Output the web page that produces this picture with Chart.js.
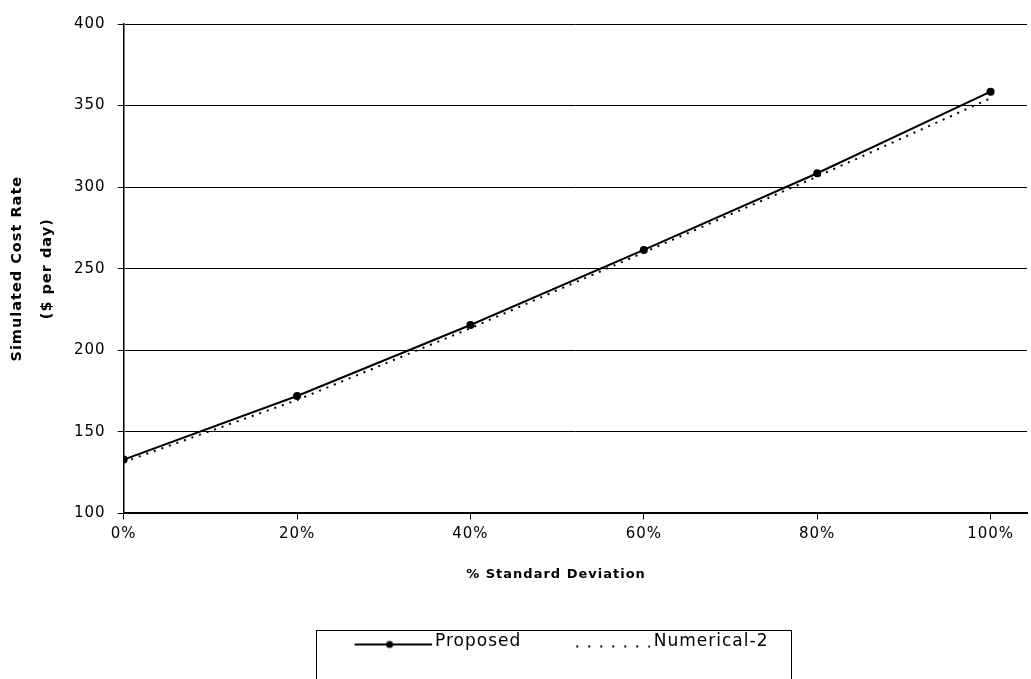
<!DOCTYPE html>
<html>
<head>
<meta charset="utf-8">
<script src="https://cdn.jsdelivr.net/npm/chart.js@4"></script>
<style>
  html, body { margin: 0; padding: 0; background: #fff; }
  #wrap { width: 1031px; height: 679px; }
</style>
</head>
<body>
<div id="wrap"><canvas id="chart" width="1031" height="679"></canvas></div>
<script>
// values
const stdDev = [0, 20, 40, 60, 80, 100];
const proposed = [133, 172, 215.5, 261.5, 308.5, 358.5];
const numerical2 = [131.5, 169.5, 213.5, 260, 306.5, 354.5];
const xTicks = [0, 20, 40, 60, 80, 100];
const yTicks = [100, 150, 200, 250, 300, 350, 400];

const toPoints = ys => stdDev.map((x, i) => ({ x: x, y: ys[i] }));

// little legend samples: solid line with a dot, and a dotted line
function sampleSolid(){
  const c = document.createElement("canvas");
  c.width = 94; c.height = 20;
  const g = c.getContext("2d");
  g.strokeStyle = "#000"; g.lineWidth = 2;
  g.beginPath(); g.moveTo(17, 13); g.lineTo(94, 13); g.stroke();
  g.fillStyle = "#000";
  g.beginPath(); g.arc(52, 13, 3.5, 0, Math.PI * 2); g.fill();
  return c;
}
function sampleDotted(){
  const c = document.createElement("canvas");
  c.width = 94; c.height = 20;
  const g = c.getContext("2d");
  g.fillStyle = "#000";
  for (let x = 20; x <= 92; x += 12) g.fillRect(x, 14, 2, 2);
  return c;
}

const spacing = {
  id: "spacing",
  beforeUpdate(chart){ chart.ctx.letterSpacing = "1px"; },
  beforeDraw(chart){ chart.ctx.letterSpacing = "1px"; }
};

const legendBox = {
  id: "legendBox",
  afterLayout(chart){
    chart.legend.left += 40;
    chart.legend.right += 40;
  },
  afterDraw(chart){
    const hb = chart.legend.legendHitBoxes;
    if (!hb || !hb.length) return;
    const last = hb[hb.length - 1];
    const ctx = chart.ctx;
    ctx.save();
    ctx.strokeStyle = "#000";
    ctx.lineWidth = 1;
    const l = Math.round(hb[0].left - 27) + 0.5;
    const r = Math.round(last.left + last.width + 23) + 0.5;
    const t = Math.round(hb[0].top - 3) + 0.5;
    ctx.strokeRect(l, t, r - l, chart.height + 10 - t);
    ctx.restore();
  }
};

Chart.defaults.font.family = "'DejaVu Sans', sans-serif";
Chart.defaults.color = "#000";

new Chart(document.getElementById("chart"), {
  type: "line",
  data: {
    datasets: [
      {
        label: "Proposed",
        data: toPoints(proposed),
        borderColor: "#000",
        backgroundColor: "#000",
        borderWidth: 2,
        pointRadius: 4,
        pointBackgroundColor: "#000",
        pointBorderWidth: 0,
        tension: 0
      },
      {
        label: "Numerical-2",
        data: toPoints(numerical2),
        borderColor: "#000",
        borderWidth: 2,
        borderDash: [2, 6],
        pointRadius: 0,
        tension: 0
      }
    ]
  },
  options: {
    responsive: false,
    animation: false,
    layout: { padding: { top: 24, right: 0, bottom: 19, left: 0 } },
    plugins: {
      tooltip: { enabled: false },
      legend: {
        position: "bottom",
        labels: {
          usePointStyle: true,
          pointStyleWidth: 84,
          padding: 40,
          font: { size: 17 },
          color: "#000",
          generateLabels: () => [
            { text: "Proposed", pointStyle: sampleSolid(), fillStyle: "#000", strokeStyle: "#000", lineWidth: 0, hidden: false, datasetIndex: 0 },
            { text: "Numerical-2", pointStyle: sampleDotted(), fillStyle: "#000", strokeStyle: "#000", lineWidth: 0, hidden: false, datasetIndex: 1 }
          ]
        }
      }
    },
    scales: {
      x: {
        type: "linear",
        min: 0,
        max: 104.2,
        afterBuildTicks: s => { s.ticks = xTicks.map(v => ({ value: v })); },
        ticks: {
          callback: v => v + "%",
          font: { size: 15 },
          padding: 6,
          maxRotation: 0
        },
        grid: { drawOnChartArea: false, drawTicks: true, tickLength: 6, color: "#000" },
        border: { color: "#000", width: 2 },
        title: {
          display: true,
          // trailing spaces nudge the centred title left, like the original
          text: "% Standard Deviation       ",
          font: { size: 13, weight: "bold" },
          padding: { top: 17, bottom: 11 }
        }
      },
      y: {
        min: 100,
        max: 400,
        afterBuildTicks: s => { s.ticks = yTicks.map(v => ({ value: v })); },
        ticks: { font: { size: 15 }, padding: 12 },
        grid: { color: "#000", lineWidth: 1, tickLength: 6 },
        border: { color: "#000", width: 1.5 },
        title: {
          display: true,
          text: ["Simulated Cost Rate", "($ per day)"],
          font: { size: 14.5, weight: "bold", lineHeight: 2.07 },
          padding: { top: 2, bottom: 0 }
        }
      }
    }
  },
  plugins: [spacing, legendBox]
});
</script>
</body>
</html>
